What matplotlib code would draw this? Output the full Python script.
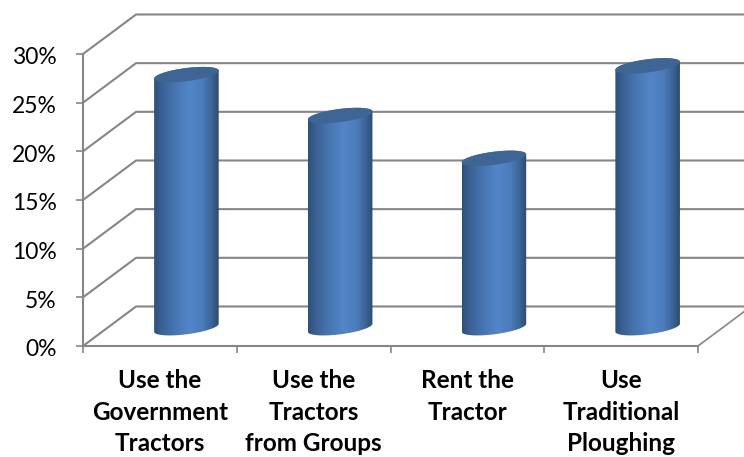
import numpy as np
import matplotlib
matplotlib.use('Agg')
import matplotlib.pyplot as plt
from matplotlib.colors import LinearSegmentedColormap
from matplotlib.patches import Polygon
from matplotlib.transforms import ScaledTranslation

categories = ['Use the\nGovernment\nTractors', 'Use the\nTractors\nfrom Groups',
              'Rent the\nTractor', 'Use\nTraditional\nPloughing']
values = [26.0, 21.8, 17.4, 26.9]
y_ticks = [0, 5, 10, 15, 20, 25, 30]

GREY = '#868686'
depth_x = 0.345   # floor depth, in categories
depth_y = 4.06    # floor depth, in percent
bar_w = 0.42
rise = 0.41       # tilt of the cylinder ends
flat = 0.68

body = LinearSegmentedColormap.from_list('body', [
    (0.0, '#2f5078'), (0.12, '#3a6194'), (0.32, '#4775b0'), (0.55, '#5386c8'),
    (0.75, '#4b7cbb'), (0.9, '#3a6294'), (1.0, '#2c4a70')])

plt.rcParams['font.family'] = ['Lato', 'DejaVu Sans']
fig = plt.figure(figsize=(7.44, 4.57), dpi=100)
ax = fig.add_axes([83/744, 111/457, 615/744, 292/457])
ax.set_xlim(0, 4)
ax.set_ylim(0, 30)
ax.patch.set_visible(False)

# walls of the 3D box
for y in y_ticks:
    ax.plot([0, depth_x, 4 + depth_x], [y, y + depth_y, y + depth_y], color=GREY, lw=1.5,
            clip_on=False, zorder=1, solid_joinstyle='miter')
ax.plot([4, 4 + depth_x], [0, depth_y], color=GREY, lw=1.2, clip_on=False, zorder=1)

t = np.linspace(0, 2*np.pi, 120)
gradient = np.linspace(0, 1, 256).reshape(1, -1)
for i, v in enumerate(values):
    cx = i + 0.5 + depth_x/2
    left, right = cx - bar_w/2, cx + bar_w/2
    base = depth_y/2 - 0.15
    top = base + v
    ex = bar_w/2*np.cos(t)
    ey = rise*np.cos(t) + flat*np.sin(t)

    # cylinder side: bottom end, then up to the top end
    low = np.column_stack([cx + ex, base + ey])
    high = np.column_stack([cx + ex, top + ey])
    outline = np.vstack([low[60:], high[:60]])
    poly = Polygon(outline, closed=True, transform=ax.transData, fc='none', ec='none')
    ax.add_patch(poly)
    im = ax.imshow(gradient, cmap=body, extent=[left, right, base - 2, top + 2],
                   aspect='auto', zorder=3, clip_on=True)
    im.set_clip_path(poly)

    ax.fill(cx + ex, top + ey, color='#3e6594', lw=0, zorder=4, clip_on=False)

ax.set_xlim(0, 4)
ax.set_ylim(0, 30)

for side in ['top', 'right']:
    ax.spines[side].set_visible(False)
for side in ['left', 'bottom']:
    ax.spines[side].set_color(GREY)
    ax.spines[side].set_linewidth(1.5)

ax.set_yticks(y_ticks)
ax.set_yticklabels(['%d%%' % y for y in y_ticks])
ax.set_xticks(range(5))
ax.set_xticklabels([])
ax.set_xticks(np.arange(4) + 0.5, categories, minor=True, fontweight='bold', fontsize=17.5,
              linespacing=1.46, va='top')
ax.tick_params(axis='x', which='major', length=5, width=1.2, color=GREY)
ax.tick_params(axis='x', which='minor', length=0, pad=16.5)
ax.tick_params(axis='y', length=5, width=1.2, color=GREY, labelsize=16.5, pad=14)

# nudge the percent labels down a little
nudge = ScaledTranslation(0, -2/100, fig.dpi_scale_trans)
for label in ax.get_yticklabels():
    label.set_transform(label.get_transform() + nudge)

fig.savefig('out.png', dpi=100)
